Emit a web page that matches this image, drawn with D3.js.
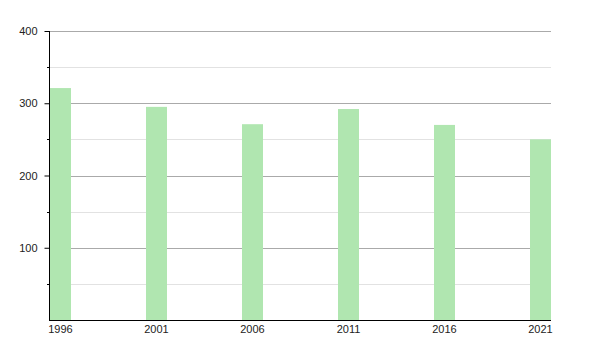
<!DOCTYPE html>
<html>
<head>
<meta charset="utf-8">
<script src="https://cdn.jsdelivr.net/npm/d3@7"></script>
<style>
  body { margin: 0; background: #fff; }
  text { font-family: "Liberation Sans", Arial, sans-serif; font-size: 11px; fill: #222; }
</style>
</head>
<body>
<div id="chart"></div>
<script>
// data
var years = [1996, 2001, 2006, 2011, 2016, 2021];
var values = [321, 295, 271, 292, 270, 250];
var majorTicks = [100, 200, 300, 400];
var minorTicks = [50, 150, 250, 350];

var width = 600, height = 350;
var plotLeft = 50, plotRight = 551, plotTop = 31, plotBottom = 320;
var barW = 21;

var svg = d3.select("#chart").append("svg")
  .attr("width", width)
  .attr("height", height);

var x = d3.scaleLinear().domain([1996, 2021]).range([plotLeft, plotRight - barW]);
var y = d3.scaleLinear().domain([0, 400]).range([plotBottom, plotTop]);

function py(d) { return Math.round(y(d)) + 0.5; }

// minor grid
svg.append("g").selectAll("line").data(minorTicks).enter().append("line")
  .attr("x1", plotLeft).attr("x2", plotRight)
  .attr("y1", py).attr("y2", py)
  .attr("stroke", "#e2e2e2");

// major grid
svg.append("g").selectAll("line").data(majorTicks).enter().append("line")
  .attr("x1", plotLeft).attr("x2", plotRight)
  .attr("y1", py).attr("y2", py)
  .attr("stroke", "#aaa");

// bars
svg.append("g").selectAll("rect").data(years).enter().append("rect")
  .attr("x", function(d) { return x(d); })
  .attr("y", function(d, i) { return y(values[i]); })
  .attr("width", barW)
  .attr("height", function(d, i) { return y(0) - y(values[i]); })
  .attr("fill", "#b0e6b0");

// y axis
var yAxis = d3.axisLeft(y).tickValues(majorTicks).tickSize(5).tickPadding(7);
var gy = svg.append("g")
  .attr("transform", "translate(" + (plotLeft - 0.5) + ",0)")
  .call(yAxis);
gy.select(".domain").remove();
gy.selectAll("line").attr("stroke", "#000");
gy.selectAll("text").style("font-size", "11px").attr("fill", "#222");

// minor ticks on the axis
svg.append("g").selectAll("line").data(minorTicks).enter().append("line")
  .attr("x1", plotLeft - 3).attr("x2", plotLeft)
  .attr("y1", py).attr("y2", py)
  .attr("stroke", "#000");

svg.append("line")
  .attr("x1", plotLeft - 0.5).attr("x2", plotLeft - 0.5)
  .attr("y1", plotTop).attr("y2", plotBottom)
  .attr("stroke", "#000");

// x axis
svg.append("line")
  .attr("x1", plotLeft - 1).attr("x2", plotRight)
  .attr("y1", plotBottom + 0.5).attr("y2", plotBottom + 0.5)
  .attr("stroke", "#000");

svg.append("g").selectAll("text").data(years).enter().append("text")
  .attr("x", function(d) { return x(d) + barW / 2; })
  .attr("y", plotBottom + 13)
  .attr("text-anchor", "middle")
  .text(function(d) { return d; });
</script>
</body>
</html>
